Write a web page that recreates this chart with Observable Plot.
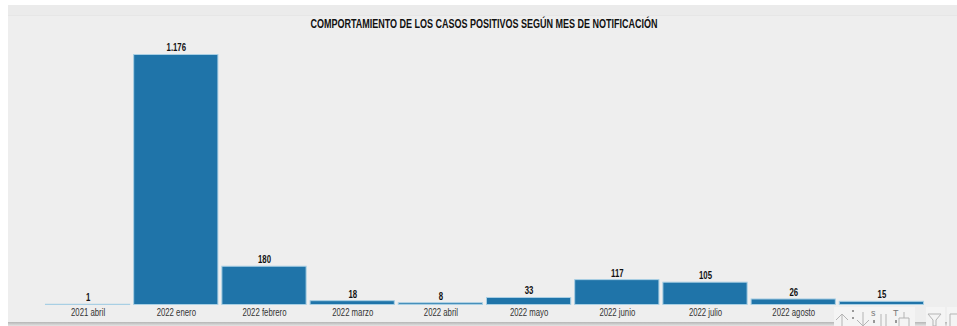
<!DOCTYPE html>
<html><head><meta charset="utf-8">
<script src="https://cdn.jsdelivr.net/npm/d3@7"></script>
<script src="https://cdn.jsdelivr.net/npm/@observablehq/plot@0.6"></script>
<style>
html,body{margin:0;padding:0;background:#fff;overflow:hidden}
#wrap{position:relative;width:957px;height:326px;font-family:"Liberation Sans",sans-serif}
#panel{position:absolute;left:8px;top:5px;right:0;height:318px;background:#eeeeee}
#band{position:absolute;left:8px;top:5px;right:0;height:10px;background:#ebebeb;border-bottom:1px solid #e6e6e6}
#shadow{position:absolute;left:8px;top:322px;right:0;height:4px;background:linear-gradient(#b5b5b5,#e4e4e4)}
#title{position:absolute;left:8px;top:17px;width:952px;text-align:center;font-weight:bold;font-size:12px;line-height:14px;color:#111;white-space:nowrap;transform:scaleX(0.75);transform-origin:476px 0}
#chart{position:absolute;left:0;top:0}
#chart svg{background:transparent;display:block}
#tools{position:absolute;left:0;top:0}
</style></head><body>
<div id="wrap">
<div id="panel"></div><div id="band"></div><div id="shadow"></div>
<div id="title">COMPORTAMIENTO DE LOS CASOS POSITIVOS SEGÚN MES DE NOTIFICACIÓN</div>
<div id="chart"></div>
<svg id="tools" width="957" height="326" fill="none" stroke="#b4b4b4" stroke-width="1">
<rect x="834" y="307" width="81" height="19" fill="#f4f4f4" stroke="none"/>
<rect x="926" y="307" width="19" height="19" fill="#f4f4f4" stroke="none"/>
<rect x="947" y="307" width="10" height="19" fill="#f4f4f4" stroke="none"/>
<path d="M842 326V314M836 320l6-6 6 6M863 312v14M857 320l6 6 6-6M881 314v12M886 314v12M904 312v6M899 326v-8h10v8"/>
<path d="M928 314h13l-5 6v6h-3v-6zM950 326v-12h7"/>
<g fill="#777" stroke="none" font-size="9"><text x="871" y="316">s</text><text x="893" y="316">T</text></g>
<g fill="#999" stroke="none"><rect x="852" y="310" width="2" height="2"/><rect x="852" y="317" width="2" height="2"/><rect x="873" y="320" width="2" height="3"/><rect x="895" y="320" width="2" height="3"/></g>
</svg>
</div>
<script>
const meses = ["2021 abril","2022 enero","2022 febrero","2022 marzo","2022 abril","2022 mayo","2022 junio","2022 julio","2022 agosto","2022 septiembre"];
const casos = [1,1176,180,18,8,33,117,105,26,15];
const rows = meses.map((mes,i)=>({mes,valor:casos[i]}));
const fmt = d3.formatLocale({decimal:",",thousands:".",grouping:[3],currency:["",""]}).format(",d");
const plot = Plot.plot({
  width:957,height:326,
  marginTop:54.5,marginBottom:21.5,marginLeft:41.5,marginRight:29.5,
  style:{background:"transparent",fontFamily:'"Liberation Sans",sans-serif'},
  x:{domain:meses,padding:0.045,align:0.5,round:false,label:null},
  y:{domain:[0,1176],axis:null},
  marks:[
    Plot.axisX({tickSize:0,tickPadding:4,fontSize:10.5,color:"#333",label:null,
      tickFormat:d=>d==="2022 septiembre"?"":d}),
    Plot.barY(rows,{x:"mes",y:"valor",fill:"#1f74a9",stroke:"#a8cfe4",strokeWidth:1}),
    Plot.text(rows,{x:"mes",y:"valor",text:d=>fmt(d.valor),dy:-7,fontSize:10.5,fontWeight:"bold",fill:"#111"})
  ]
});
document.getElementById("chart").appendChild(plot);
plot.querySelectorAll("text").forEach(t=>{
  const spans=t.querySelectorAll("tspan");
  (spans.length?spans:[t]).forEach(el=>{
    const w=el.getComputedTextLength();
    if(w>0){el.setAttribute("textLength",w*0.74);el.setAttribute("lengthAdjust","spacingAndGlyphs");}
  });
});
</script>
</body></html>
